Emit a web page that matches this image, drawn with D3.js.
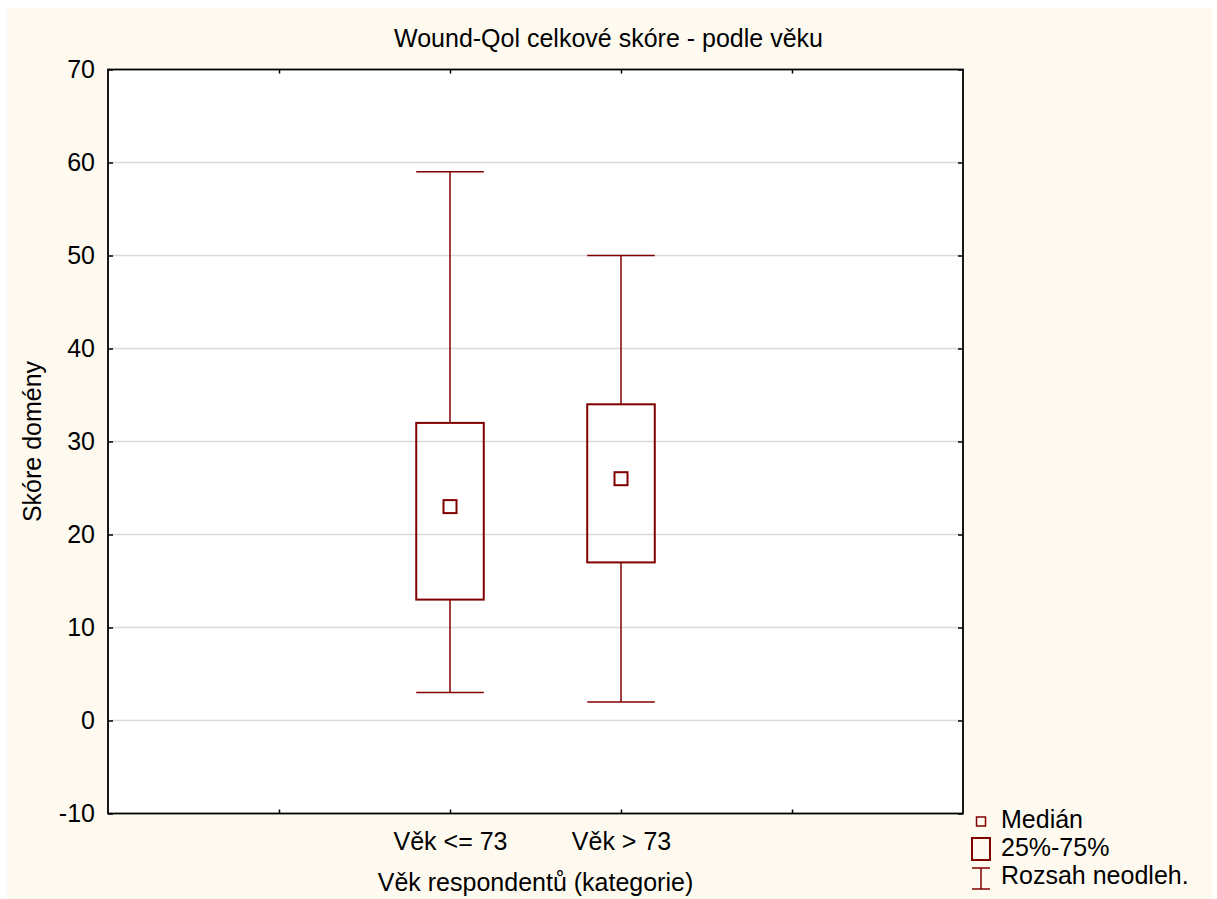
<!DOCTYPE html>
<html>
<head>
<meta charset="utf-8">
<script src="https://cdn.jsdelivr.net/npm/d3@7"></script>
<style>
  body { margin: 0; background: #ffffff; }
  svg text { font-family: "Liberation Sans", Arial, sans-serif; fill: #000; }
</style>
</head>
<body>
<div id="chart"></div>
<script>
var categories = ["Věk <= 73", "Věk > 73"];
var medians = [23, 26];
var q1 = [13, 17];
var q3 = [32, 34];
var mins = [3, 2];
var maxs = [59, 50];
var yTicks = [-10, 0, 10, 20, 30, 40, 50, 60, 70];
var legendItems = ["Medián", "25%-75%", "Rozsah neodleh."];

var width = 1217,
  height = 899;
var margin = { top: 69.5, right: 254, bottom: 85.5, left: 108 };
var red = "#800000";
var fontSize = 25;

var svg = d3.select("#chart").append("svg").attr("width", width).attr("height", height);

svg
  .append("rect")
  .attr("x", 7)
  .attr("y", 8)
  .attr("width", 1205)
  .attr("height", height - 8)
  .attr("fill", "#fffaf0");

var x = d3.scaleLinear([-2, categories.length + 1], [margin.left, width - margin.right]);
var y = d3.scaleLinear([-10, 70], [height - margin.bottom, margin.top]);
var step = x(1) - x(0);

// plot background
svg
  .append("rect")
  .attr("x", x(-2))
  .attr("y", y(70))
  .attr("width", x(categories.length + 1) - x(-2))
  .attr("height", y(-10) - y(70))
  .attr("fill", "#ffffff");

// grid lines
svg
  .append("g")
  .selectAll("line")
  .data(yTicks.slice(1, -1))
  .join("line")
  .attr("x1", x(-2))
  .attr("x2", x(categories.length + 1))
  .attr("y1", function (d) { return y(d); })
  .attr("y2", function (d) { return y(d); })
  .attr("stroke", "#d9d9d9")
  .attr("stroke-width", 1.5);

// y axes (left + right), ticks inward
svg
  .append("g")
  .attr("transform", "translate(" + x(-2) + ",0)")
  .call(d3.axisLeft(y).tickValues(yTicks).tickSize(-5).tickPadding(13).tickFormat(String))
  .call(function (g) {
    g.select(".domain").remove();
    g.selectAll("line").attr("stroke", "#000").attr("stroke-width", 1.5);
    g.selectAll("text").attr("font-size", fontSize).attr("font-family", null);
  });
svg
  .append("g")
  .attr("transform", "translate(" + x(categories.length + 1) + ",0)")
  .call(d3.axisRight(y).tickValues(yTicks).tickSize(-5).tickFormat(""))
  .call(function (g) {
    g.select(".domain").remove();
    g.selectAll("line").attr("stroke", "#000").attr("stroke-width", 1.5);
  });

// x axes (bottom + top), ticks inward
var xTicks = d3.range(-1, categories.length + 1);
svg
  .append("g")
  .attr("transform", "translate(0," + y(-10) + ")")
  .call(
    d3
      .axisBottom(x)
      .tickValues(xTicks)
      .tickSize(-4)
      .tickPadding(0)
      .tickFormat(function (d) { return categories[d] || ""; })
  )
  .call(function (g) {
    g.select(".domain").remove();
    g.selectAll("line").attr("stroke", "#000").attr("stroke-width", 1.5);
    g.selectAll("text").attr("font-size", fontSize).attr("font-family", null).attr("dy", null).attr("y", 36);
  });
svg
  .append("g")
  .attr("transform", "translate(0," + y(70) + ")")
  .call(d3.axisTop(x).tickValues(xTicks).tickSize(-4).tickFormat(""))
  .call(function (g) {
    g.select(".domain").remove();
    g.selectAll("line").attr("stroke", "#000").attr("stroke-width", 1.5);
  });

// frame
svg
  .append("rect")
  .attr("x", x(-2))
  .attr("y", y(70))
  .attr("width", x(categories.length + 1) - x(-2))
  .attr("height", y(-10) - y(70))
  .attr("fill", "none")
  .attr("stroke", "#000")
  .attr("stroke-width", 1.8);

// boxes
var boxW = step * 0.395,
  capW = boxW / 2,
  medS = 13;
var boxes = svg
  .append("g")
  .selectAll("g")
  .data(categories)
  .join("g")
  .attr("transform", function (d, i) { return "translate(" + x(i) + ",0)"; });

boxes
  .append("line")
  .attr("y1", function (d, i) { return y(maxs[i]); })
  .attr("y2", function (d, i) { return y(q3[i]); })
  .attr("stroke", red)
  .attr("stroke-width", 1.5);
boxes
  .append("line")
  .attr("y1", function (d, i) { return y(q1[i]); })
  .attr("y2", function (d, i) { return y(mins[i]); })
  .attr("stroke", red)
  .attr("stroke-width", 1.5);
boxes
  .selectAll(".cap")
  .data(function (d, i) { return [maxs[i], mins[i]]; })
  .join("line")
  .attr("class", "cap")
  .attr("x1", -capW)
  .attr("x2", capW)
  .attr("y1", function (v) { return y(v); })
  .attr("y2", function (v) { return y(v); })
  .attr("stroke", red)
  .attr("stroke-width", 1.5);
boxes
  .append("rect")
  .attr("x", -boxW / 2)
  .attr("y", function (d, i) { return y(q3[i]); })
  .attr("width", boxW)
  .attr("height", function (d, i) { return y(q1[i]) - y(q3[i]); })
  .attr("fill", "none")
  .attr("stroke", red)
  .attr("stroke-width", 2);
boxes
  .append("rect")
  .attr("x", -medS / 2)
  .attr("y", function (d, i) { return y(medians[i]) - medS / 2; })
  .attr("width", medS)
  .attr("height", medS)
  .attr("fill", "none")
  .attr("stroke", red)
  .attr("stroke-width", 2);

// titles
svg
  .append("text")
  .attr("x", width / 2)
  .attr("y", 47)
  .attr("text-anchor", "middle")
  .attr("font-size", fontSize)
  .text("Wound-Qol celkové skóre - podle věku");
svg
  .append("text")
  .attr("x", (x(-2) + x(categories.length + 1)) / 2)
  .attr("y", 891)
  .attr("text-anchor", "middle")
  .attr("font-size", fontSize)
  .text("Věk respondentů (kategorie)");
svg
  .append("text")
  .attr("transform", "translate(41," + (y(70) + y(-10)) / 2 + ") rotate(-90)")
  .attr("text-anchor", "middle")
  .attr("font-size", fontSize)
  .text("Skóre domény");

// legend
var legend = svg
  .append("g")
  .attr("transform", "translate(981,0)")
  .selectAll("g")
  .data(legendItems)
  .join("g")
  .attr("transform", function (d, i) { return "translate(0," + (828 + i * 28) + ")"; });
legend
  .append("text")
  .attr("x", 20)
  .attr("font-size", fontSize)
  .text(function (d) { return d; });
legend
  .filter(function (d, i) { return i === 0; })
  .append("rect")
  .attr("x", -4.5)
  .attr("y", -11)
  .attr("width", 9)
  .attr("height", 9)
  .attr("fill", "none")
  .attr("stroke", red)
  .attr("stroke-width", 1.5);
legend
  .filter(function (d, i) { return i === 1; })
  .append("rect")
  .attr("x", -9)
  .attr("y", -18)
  .attr("width", 18)
  .attr("height", 22)
  .attr("fill", "none")
  .attr("stroke", red)
  .attr("stroke-width", 2);
legend
  .filter(function (d, i) { return i === 2; })
  .append("path")
  .attr("d", "M-9,-16H9M0,-16V5M-9,5H9")
  .attr("fill", "none")
  .attr("stroke", red)
  .attr("stroke-width", 1.5);
</script>
</body>
</html>
